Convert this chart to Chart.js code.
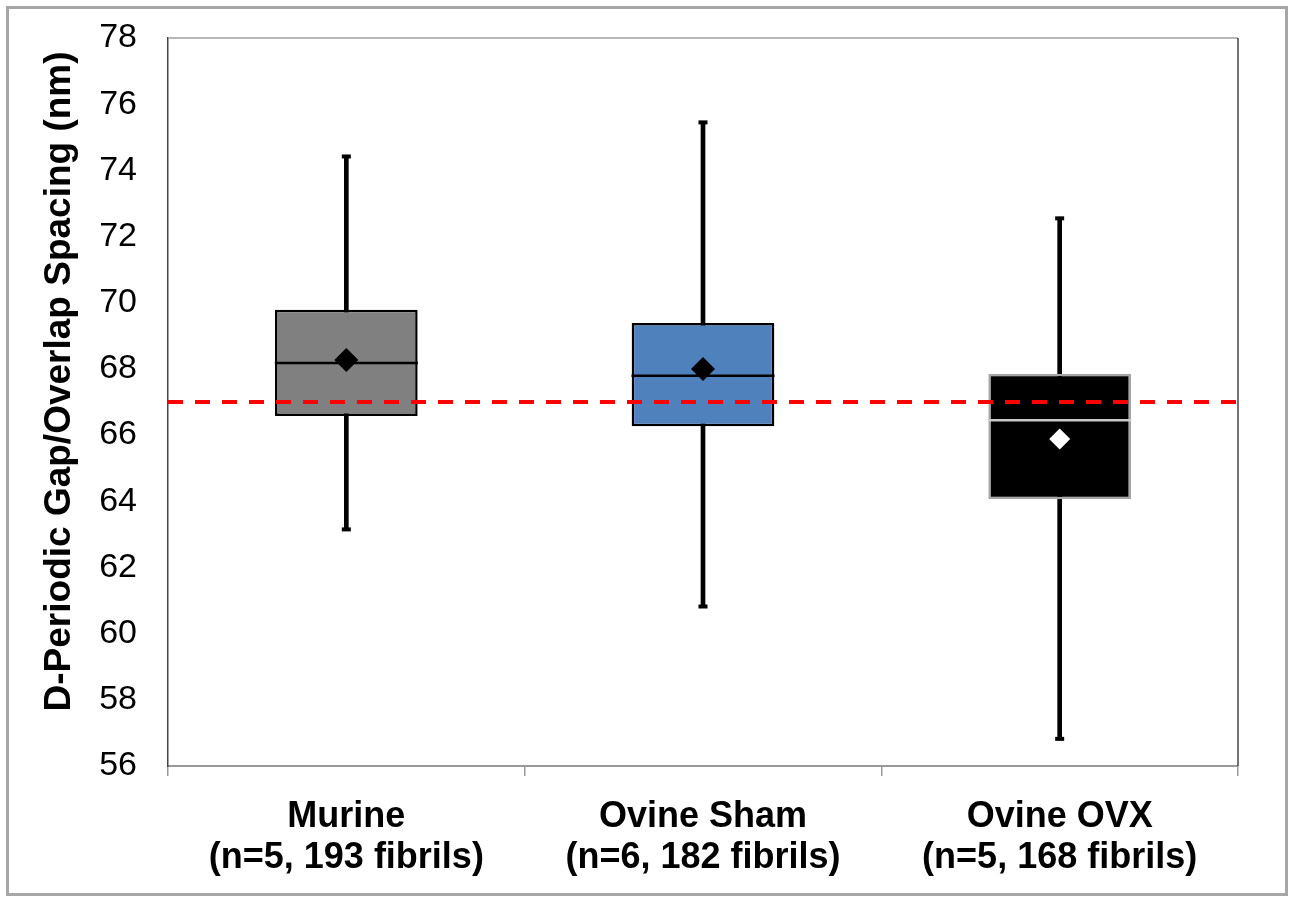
<!DOCTYPE html>
<html>
<head>
<meta charset="utf-8">
<script src="https://cdn.jsdelivr.net/npm/chart.js@4.4.1/dist/chart.umd.min.js"></script>
<style>
  html, body { margin: 0; padding: 0; background: #fff; }
  #wrap { position: relative; width: 1290px; height: 902px; }
</style>
</head>
<body>
<div id="wrap"><canvas id="boxChart" width="1290" height="902"></canvas></div>
<script>
// 分组标签
const categories = [
    ['Murine', '(n=5, 193 fibrils)'],
    ['Ovine Sham', '(n=6, 182 fibrils)'],
    ['Ovine OVX', '(n=5, 168 fibrils)']
];

// 箱线图数值 (nm)
const whiskerLow = [63.15, 60.82, 56.82];
const q1 = [66.58, 66.27, 64.06];
const median = [68.18, 67.79, 66.45];
const q3 = [69.79, 69.39, 67.85];
const whiskerHigh = [74.42, 75.45, 72.55];
const means = [68.27, 68.0, 65.88];

// 参考线 67 nm
const referenceValue = 67;

// y 轴刻度
const yMin = 56;
const yMax = 78;
const yStep = 2;

const boxColors = ['#808080', '#4f81bd', '#000000'];
const boxBorders = ['#000000', '#000000', '#a6a6a6'];
const medianColors = ['#000000', '#000000', '#c8c8c8'];
const meanColors = ['#000000', '#000000', '#ffffff'];

const FONT = "'Liberation Sans', Arial, sans-serif";

// 参考线和外框
const framePlugin = {
    id: 'framePlugin',
    beforeDraw(chart) {
        const ctx = chart.ctx;
        ctx.save();
        ctx.strokeStyle = '#a6a6a6';
        ctx.lineWidth = 3;
        ctx.strokeRect(7.5, 7.5, 1279, 887);
        ctx.restore();
    },
    beforeDatasetsDraw(chart) {
        const { ctx, chartArea } = chart;
        ctx.save();
        ctx.lineWidth = 1.5;
        ctx.strokeStyle = '#a0a0a0';
        ctx.beginPath();
        ctx.moveTo(chartArea.left, chartArea.top);
        ctx.lineTo(chartArea.right, chartArea.top);
        ctx.stroke();
        ctx.strokeStyle = '#444';
        ctx.beginPath();
        ctx.moveTo(chartArea.right, chartArea.top);
        ctx.lineTo(chartArea.right, chartArea.bottom);
        ctx.stroke();
        ctx.restore();
    },
    afterDatasetsDraw(chart) {
        const { ctx, chartArea, scales } = chart;
        const y = scales.y.getPixelForValue(referenceValue);
        ctx.save();
        ctx.strokeStyle = '#ff0000';
        ctx.lineWidth = 4;
        ctx.setLineDash([15, 12]);
        ctx.beginPath();
        ctx.moveTo(chartArea.left, y);
        ctx.lineTo(chartArea.right, y);
        ctx.stroke();
        ctx.restore();
    }
};

const pointBase = {
    type: 'line',
    showLine: false,
    clip: false,
    pointHoverRadius: 0
};

function noPadding(s) {
    s.paddingTop = 0;
    s.paddingBottom = 0;
    s.paddingLeft = 0;
    s.paddingRight = 0;
}

new Chart(document.getElementById('boxChart'), {
    type: 'bar',
    data: {
        labels: categories,
        datasets: [
            {
                label: 'mean',
                ...pointBase,
                data: means,
                pointStyle: 'rectRot',
                pointRadius: [12, 12, 10.5],
                pointBackgroundColor: meanColors,
                pointBorderColor: meanColors,
                pointBorderWidth: 0,
                order: 0
            },
            {
                label: 'median',
                ...pointBase,
                data: median,
                pointStyle: 'line',
                pointRadius: 71.5,
                pointBorderColor: medianColors,
                pointBorderWidth: 2.5,
                order: 1
            },
            {
                label: 'box',
                data: q1.map((v, i) => [v, q3[i]]),
                backgroundColor: boxColors,
                borderColor: boxBorders,
                borderWidth: 2.5,
                borderSkipped: false,
                grouped: false,
                categoryPercentage: 1,
                barPercentage: 0.4,
                order: 2
            },
            {
                label: 'cap high',
                ...pointBase,
                data: whiskerHigh,
                pointStyle: 'line',
                pointRadius: 4.5,
                pointBorderColor: '#000',
                pointBorderWidth: 4,
                order: 3
            },
            {
                label: 'cap low',
                ...pointBase,
                data: whiskerLow,
                pointStyle: 'line',
                pointRadius: 4.5,
                pointBorderColor: '#000',
                pointBorderWidth: 4,
                order: 3
            },
            {
                label: 'whisker',
                data: whiskerLow.map((v, i) => [v, whiskerHigh[i]]),
                backgroundColor: '#000',
                borderWidth: 0,
                grouped: false,
                barThickness: 4,
                order: 4
            }
        ]
    },
    options: {
        responsive: false,
        animation: false,
        events: [],
        layout: { autoPadding: false, padding: { top: 38, right: 52, bottom: 0, left: 0 } },
        plugins: {
            legend: { display: false },
            tooltip: { enabled: false }
        },
        scales: {
            x: {
                offset: true,
                grid: {
                    display: true,
                    offset: true,
                    drawOnChartArea: false,
                    drawTicks: true,
                    tickLength: 10,
                    color: '#999',
                    lineWidth: 1.5
                },
                border: { display: true, color: '#999', width: 2 },
                ticks: {
                    color: '#000',
                    padding: 20,
                    maxRotation: 0,
                    autoSkip: false,
                    font: { family: FONT, size: 36, weight: 'bold', lineHeight: 1.15 }
                },
                afterFit: s => { s.height = 136; noPadding(s); }
            },
            y: {
                min: yMin,
                max: yMax,
                grid: { display: false, drawTicks: false },
                border: { display: true, color: '#444', width: 1.5 },
                ticks: {
                    stepSize: yStep,
                    color: '#000',
                    padding: 31,
                    font: { family: FONT, size: 34 }
                },
                title: {
                    display: true,
                    text: '    D-Periodic Gap/Overlap Spacing (nm)',
                    color: '#000',
                    padding: { top: 38, bottom: 0 },
                    font: { family: FONT, size: 37, weight: 'bold' }
                },
                afterFit: s => { s.width = 168; noPadding(s); }
            }
        }
    },
    plugins: [framePlugin]
});
</script>
</body>
</html>
